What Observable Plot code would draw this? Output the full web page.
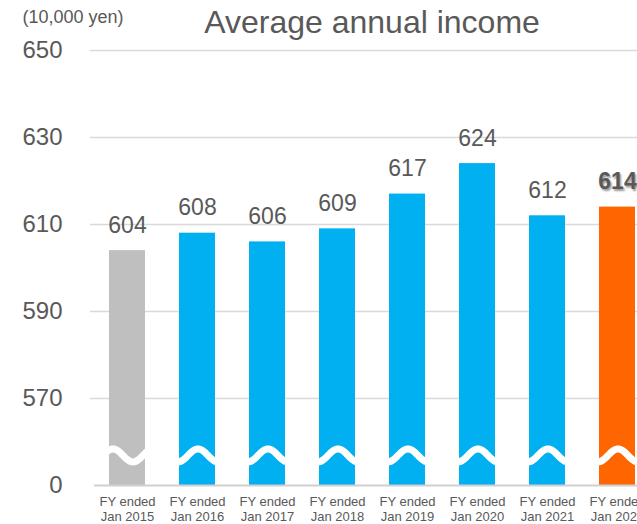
<!DOCTYPE html>
<html>
<head>
<meta charset="utf-8">
<script src="https://cdn.jsdelivr.net/npm/d3@7"></script>
<script src="https://cdn.jsdelivr.net/npm/@observablehq/plot@0.6"></script>
<style>
  body { margin: 0; background: white; }
  #wrap { width: 637px; height: 524px; overflow: hidden; position: relative; }
  #wrap svg { max-width: none !important; display: block; }
</style>
</head>
<body>
<div id="wrap"></div>
<script>
const categories = [
  "FY ended\nJan 2015", "FY ended\nJan 2016", "FY ended\nJan 2017", "FY ended\nJan 2018",
  "FY ended\nJan 2019", "FY ended\nJan 2020", "FY ended\nJan 2021", "FY ended\nJan 2022"
];
const values = [604, 608, 606, 609, 617, 624, 612, 614];
const barColors = ["#bfbfbf", "#00b0f0", "#00b0f0", "#00b0f0", "#00b0f0", "#00b0f0", "#00b0f0", "#ff6600"];
const yTicks = [550, 570, 590, 610, 630, 650];
const yTickLabels = ["0", "570", "590", "610", "630", "650"];
const axisBase = 550;      // value drawn at the "0" baseline (broken axis)
const breakValue = 556.8;  // where the wavy break is drawn
const title = "Average annual income";
const unit = "(10,000 yen)";

const data = categories.map((c, i) => ({cat: c, value: values[i], color: barColors[i], last: i === categories.length - 1}));

const font = "'Liberation Sans', Arial, sans-serif";
const textColor = "#595959";

function waveMark(index, scales) {
  const {x, y} = scales;
  const g = d3.create("svg:g");
  const bw = x.bandwidth();
  const yc = y(breakValue);
  categories.forEach((c, i) => {
    const L = x(c);
    const peak = i === 0 ? L + 4 : L + bw / 2 + 1;
    const pts = d3.range(-3, bw + 4, 1).map(dx => [L + dx, yc - 6.5 * Math.cos(2 * Math.PI * (L + dx - peak) / 40)]);
    g.append("path")
      .attr("d", d3.line()(pts))
      .attr("stroke", "white")
      .attr("stroke-width", 7)
      .attr("fill", "none");
  });
  return g.node();
}

const chart = Plot.plot({
  width: 653,
  height: 524,
  marginTop: 50,
  marginBottom: 39,
  marginLeft: 90,
  marginRight: 0,
  style: {fontFamily: font, color: textColor, background: "white", maxWidth: "none"},
  x: {domain: categories, paddingInner: 0.49, paddingOuter: 0.245, label: null},
  y: {domain: [axisBase, 650], label: null},
  marks: [
    Plot.ruleY(yTicks.slice(1), {stroke: "#d9d9d9", strokeWidth: 1.5}),
    Plot.barY(data, {x: "cat", y1: axisBase, y2: "value", fill: "color"}),
    Plot.ruleY([axisBase], {stroke: "#d0d0d0", strokeWidth: 2, insetLeft: 4}),
    waveMark,
    Plot.text(data.filter(d => !d.last), {x: "cat", y: "value", text: d => String(d.value), lineAnchor: "bottom", dy: -18, fontSize: 23, fill: textColor}),
    Plot.text(data.filter(d => d.last), {x: "cat", y: "value", text: d => String(d.value), lineAnchor: "bottom", dy: -18, fontSize: 23, fontWeight: "bold", fill: "#595959"}),
    Plot.axisX({tickSize: 0, tickPadding: 9, fontSize: 13, lineHeight: 1.2, fill: textColor}),
    Plot.axisY({ticks: yTicks, tickFormat: d => yTickLabels[yTicks.indexOf(d)], tickSize: 0, tickPadding: 28, fontSize: 24, fill: textColor}),
    Plot.text([title], {frameAnchor: "top", lineAnchor: "middle", dy: -28, fontSize: 32, fill: textColor}),
    Plot.text([unit], {frameAnchor: "top-left", lineAnchor: "middle", textAnchor: "start", dx: -68, dy: -33, fontSize: 18, fill: textColor})
  ]
});

chart.querySelectorAll('g[font-weight="bold"] text').forEach(t => {
  t.style.textShadow = "1.5px 1.5px 2px rgba(0,0,0,0.4)";
});

document.getElementById("wrap").appendChild(chart);
</script>
</body>
</html>
